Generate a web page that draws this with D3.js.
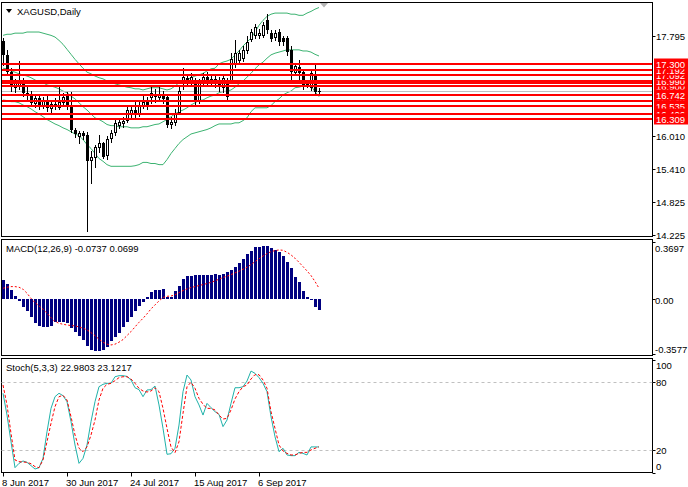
<!DOCTYPE html>
<html><head><meta charset="utf-8">
<script src="https://cdn.jsdelivr.net/npm/d3@7"></script>
<style>
body{margin:0;background:#fff}
svg{display:block}
text{font-family:"Liberation Sans",Arial,sans-serif;font-size:9.5px;fill:#000}
</style></head><body>
<svg id="c" width="688" height="487"></svg>
<script>
// ---- data ----
const opens = [17.70,17.45,17.15,16.88,16.92,16.98,16.78,16.72,16.60,16.68,16.55,16.64,16.50,16.58,16.52,16.62,16.75,16.52,16.11,16.00,
16.06,16.03,15.57,15.63,15.81,15.88,15.66,15.97,16.08,16.20,16.24,16.29,16.40,16.47,16.42,16.55,16.62,16.71,16.76,16.70,
16.76,16.70,16.22,16.26,16.44,16.97,17.04,16.96,16.97,16.64,16.97,17.06,16.98,17.03,16.96,16.88,17.01,17.01,17.31,17.37,
17.40,17.55,17.74,17.82,17.82,17.82,18.09,17.85,17.78,17.87,17.76,17.76,17.55,17.15,17.24,17.15,16.97,16.88,17.08,16.82];
const highs = [17.76,17.55,17.22,17.02,17.35,17.05,16.88,16.82,16.75,16.72,16.70,16.72,16.62,16.68,16.92,16.78,16.80,16.80,16.14,16.10,
16.10,16.07,15.73,15.84,16.02,15.90,16.00,16.11,16.29,16.31,16.35,16.55,16.55,16.62,16.62,16.72,16.70,16.88,16.85,16.90,
16.82,16.75,16.34,16.48,16.88,17.22,17.12,17.14,17.05,17.02,17.14,17.15,17.12,17.10,17.06,17.10,17.05,17.50,17.72,17.55,
17.62,17.80,17.92,18.01,17.92,18.05,18.20,17.90,17.90,17.92,17.80,17.80,17.62,17.30,17.36,17.20,17.00,17.18,17.30,16.86];
const lows = [17.28,17.10,16.82,16.80,16.85,16.72,16.66,16.55,16.52,16.48,16.50,16.45,16.40,16.48,16.48,16.55,16.48,16.08,15.98,15.88,
15.95,14.29,15.16,15.45,15.72,15.60,15.59,15.90,16.02,16.15,16.17,16.25,16.33,16.35,16.36,16.50,16.48,16.60,16.62,16.64,
16.60,16.16,16.14,16.20,16.40,16.85,16.92,16.92,16.58,16.60,16.92,16.92,16.90,16.88,16.82,16.80,16.66,16.95,17.25,17.30,
17.35,17.50,17.70,17.76,17.76,17.78,17.86,17.70,17.72,17.63,17.64,17.46,17.02,17.10,16.97,16.85,16.88,16.83,16.77,16.75];
const closes = [17.45,17.15,16.88,16.95,16.98,16.78,16.72,16.60,16.68,16.55,16.64,16.50,16.58,16.52,16.62,16.70,16.52,16.12,16.04,16.06,
16.00,15.56,15.63,15.81,15.88,15.63,15.95,16.06,16.24,16.26,16.28,16.47,16.47,16.42,16.55,16.62,16.56,16.78,16.70,16.76,
16.66,16.20,16.26,16.42,16.82,17.06,17.00,17.07,16.62,16.96,17.06,16.98,17.03,16.96,16.90,17.04,16.71,17.39,17.49,17.49,
17.55,17.69,17.87,17.96,17.86,18.00,17.91,17.74,17.85,17.69,17.69,17.51,17.15,17.26,17.13,16.92,16.92,17.13,16.80,16.81];

const bbUpper = [17.81,17.83,17.83,17.85,17.85,17.85,17.87,17.87,17.87,17.87,17.85,17.83,17.81,17.78,17.72,17.65,17.56,17.47,17.38,17.30,
17.22,17.15,17.12,17.08,17.05,17.03,16.99,16.97,16.94,16.92,16.90,16.88,16.87,16.85,16.85,16.83,16.85,16.87,16.87,16.87,
16.85,16.83,16.85,16.90,16.96,16.99,17.01,17.05,17.08,17.10,17.13,17.17,17.21,17.22,17.30,17.33,17.35,17.38,17.46,17.53,
17.62,17.69,17.76,17.87,17.99,18.08,18.15,18.19,18.21,18.21,18.21,18.21,18.19,18.19,18.17,18.17,18.21,18.24,18.28,18.31];
const bbMiddle = [17.22,17.21,17.17,17.15,17.12,17.10,17.08,17.05,17.01,16.97,16.96,16.92,16.90,16.88,16.85,16.81,16.78,16.72,16.67,16.60,
16.53,16.47,16.40,16.33,16.30,16.26,16.21,16.19,16.19,16.17,16.17,16.17,16.15,16.15,16.15,16.17,16.17,16.19,16.21,16.22,
16.26,16.30,16.35,16.40,16.44,16.47,16.51,16.56,16.60,16.64,16.65,16.69,16.72,16.74,16.78,16.80,16.81,16.83,16.88,16.94,
16.99,17.06,17.13,17.21,17.28,17.33,17.40,17.46,17.49,17.51,17.53,17.55,17.55,17.55,17.55,17.53,17.53,17.51,17.47,17.44];
const bbLower = [16.65,16.64,16.62,16.62,16.60,16.56,16.53,16.49,16.44,16.40,16.35,16.30,16.26,16.22,16.19,16.15,16.12,16.08,16.04,16.01,
15.94,15.85,15.78,15.69,15.60,15.55,15.49,15.46,15.46,15.46,15.46,15.46,15.46,15.47,15.49,15.53,15.53,15.51,15.51,15.49,
15.49,15.58,15.69,15.78,15.87,15.94,15.99,16.04,16.06,16.08,16.10,16.12,16.15,16.19,16.22,16.22,16.22,16.22,16.24,16.24,
16.28,16.33,16.44,16.51,16.51,16.51,16.51,16.55,16.62,16.67,16.74,16.78,16.81,16.87,16.88,16.90,16.92,16.90,16.80,16.71];

const macdMain = [0.123,0.097,0.058,0.019,-0.011,-0.050,-0.078,-0.115,-0.158,-0.173,-0.180,-0.180,-0.173,-0.152,-0.147,-0.152,-0.158,-0.186,-0.212,-0.240,
-0.266,-0.305,-0.331,-0.335,-0.335,-0.331,-0.310,-0.273,-0.245,-0.219,-0.180,-0.152,-0.115,-0.078,-0.043,-0.017,0.015,0.043,0.058,0.058,
0.065,0.015,0.015,0.052,0.087,0.128,0.149,0.152,0.154,0.154,0.154,0.154,0.154,0.160,0.154,0.160,0.177,0.188,0.206,0.232,
0.260,0.290,0.314,0.340,0.340,0.344,0.344,0.329,0.318,0.303,0.281,0.242,0.199,0.145,0.113,0.052,0.015,-0.002,-0.050,-0.0737];
const macdSignal = [0.069,0.076,0.080,0.080,0.076,0.063,0.037,0.004,-0.024,-0.045,-0.067,-0.093,-0.121,-0.147,-0.158,-0.165,-0.169,-0.173,-0.175,-0.182,
-0.190,-0.201,-0.219,-0.238,-0.262,-0.281,-0.294,-0.299,-0.294,-0.281,-0.264,-0.238,-0.212,-0.182,-0.152,-0.126,-0.097,-0.065,-0.039,-0.013,
0.009,0.017,0.019,0.026,0.041,0.054,0.065,0.074,0.080,0.087,0.093,0.100,0.108,0.117,0.128,0.139,0.147,0.158,0.169,0.180,
0.193,0.206,0.223,0.242,0.260,0.279,0.294,0.307,0.314,0.318,0.316,0.303,0.286,0.264,0.238,0.210,0.182,0.152,0.113,0.0699];

const stochK = [70.3,51.1,27.6,4.7,8.5,10.6,9.4,6.5,3.5,4.7,12.9,36.4,57.0,67.3,70.3,68.2,62.9,45.3,24.7,8.5,
12.9,24.7,45.3,62.9,76.1,78.2,79.1,79.1,84.9,85.8,85.8,85.2,82.0,75.2,73.5,67.3,73.2,73.5,76.7,60.0,
39.4,16.5,17.0,21.8,42.3,71.7,86.4,82.0,67.3,60.0,51.1,61.4,57.6,54.1,51.7,40.9,46.7,61.4,75.2,75.2,
76.1,81.1,89.9,87.9,84.1,79.1,71.7,49.7,32.0,18.8,21.8,15.9,15.3,15.3,18.2,17.3,15.9,23.0,23.0,22.98];
const stochD = [77.6,60.0,35.0,11.5,10.0,9.7,9.4,8.2,5.6,4.7,11.5,27.6,43.8,58.5,67.3,68.5,64.4,49.7,33.5,21.8,
18.8,23.0,33.5,46.7,64.4,74.7,78.2,79.1,81.4,84.1,84.9,84.9,82.9,79.1,74.7,72.3,71.4,72.3,75.2,71.7,
57.0,39.4,23.0,17.9,27.6,52.6,76.1,80.0,74.7,65.8,60.6,57.0,57.0,55.6,51.1,47.6,48.2,55.6,65.3,71.7,
76.1,77.6,82.9,86.7,86.7,82.0,74.7,54.1,39.4,24.7,19.4,17.3,15.9,15.9,17.3,18.2,18.2,20.3,21.8,23.12];

const levelPrices = [17.300,17.192,17.092,16.990,16.950,16.900,16.742,16.640,16.535,16.406,16.309];
const levelLabels = ["17.300","17.192","17.092","16.990","16.950","16.900","16.742","16.640","16.535","16.406","16.309"];
const levelLabelOrder = [4,5,7,3,2,1,8,9,0,6,10]; // painting order of the overlapping price tags
const bidPrice = 16.81;
const priceTicks = [17.795,16.010,15.410,14.825,14.225];
const priceTickLabels = ["17.795","16.010","15.410","14.825","14.225"];
const macdTicks = [0.3697,0.0,-0.3577];
const macdTickLabels = ["0.3697","0.00","-0.3577"];
const stochTicks = [100,80,20,0];
const stochTickLabels = ["100","80","20","0"];
const stochLevels = [80,20];
const dateTickIndex = [0,16,32,48,64];
const dateTickLabels = ["8 Jun 2017","30 Jun 2017","24 Jul 2017","15 Aug 2017","6 Sep 2017"];

// ---- layout ----
const L = 1.5, R = 652.5;
const P = {top:2.5, bottom:236.5};
const M = {top:239.5, bottom:355.5};
const S = {top:358.5, bottom:472.5};

const svg = d3.select("#c");
const idx = d3.range(closes.length);
const x = d3.scaleLinear().domain([0,79]).range([3,319]);
const yP = d3.scaleLinear().domain([14.20,18.40]).range([236.5,2.5]);
const yM = d3.scaleLinear().domain([-0.3577,0.3697]).range([354,242]);
const yS = d3.scaleLinear().domain([0,100]).range([473,359.6]);

[P,M,S].forEach(p=>{
  svg.append("rect").attr("x",L).attr("y",p.top).attr("width",R-L).attr("height",p.bottom-p.top)
    .attr("fill","#fff").attr("stroke","#000").attr("stroke-width",1);
});

svg.append("clipPath").attr("id","cp").append("rect").attr("x",L+0.5).attr("y",P.top+0.5).attr("width",R-L-1).attr("height",P.bottom-P.top-1);
const gP = svg.append("g").attr("clip-path","url(#cp)");

// Bollinger bands
const bbLine = arr => d3.line().x(i=>x(i)).y(i=>yP(arr[i]))(idx);
[bbUpper,bbMiddle,bbLower].forEach(a=>{
  gP.append("path").attr("d",bbLine(a)).attr("fill","none").attr("stroke","#3CB371").attr("stroke-width",1);
});

// bid line
gP.append("line").attr("x1",L).attr("x2",R).attr("y1",Math.round(yP(bidPrice))+0.5).attr("y2",Math.round(yP(bidPrice))+0.5)
  .attr("stroke","#c0c0c0").attr("stroke-width",1);

// candles
idx.forEach(i=>{
  const cx = Math.round(x(i));
  gP.append("line").attr("x1",cx+0.5).attr("x2",cx+0.5).attr("y1",Math.round(yP(highs[i]))).attr("y2",Math.round(yP(lows[i]))+1)
    .attr("stroke","#000").attr("stroke-width",1).attr("shape-rendering","crispEdges");
  const o = opens[i], c = closes[i];
  const yt = Math.round(yP(Math.max(o,c))), yb = Math.round(yP(Math.min(o,c)));
  if (c >= o) {
    gP.append("rect").attr("x",cx-1+0.5).attr("y",yt+0.5).attr("width",2).attr("height",Math.max(yb-yt,0))
      .attr("fill","#fff").attr("stroke","#000").attr("stroke-width",1).attr("shape-rendering","crispEdges");
  } else {
    gP.append("rect").attr("x",cx-1).attr("y",yt).attr("width",3).attr("height",Math.max(yb-yt,1))
      .attr("fill","#000").attr("shape-rendering","crispEdges");
  }
});

// red horizontal levels
levelPrices.forEach(p=>{
  const yy = Math.round(yP(p));
  gP.append("rect").attr("x",L).attr("y",yy-1).attr("width",R-L).attr("height",2).attr("fill","#ff0000");
});

// chart-shift marker
svg.append("path").attr("d","M320,3 L328,3 L324,7.5 Z").attr("fill","#b4b4b4");

// title
svg.append("path").attr("d","M6,9 L12,9 L9,13 Z").attr("fill","#000");
svg.append("text").attr("x",17).attr("y",15).text("XAGUSD,Daily");

// price axis
priceTicks.forEach((t,k)=>{
  const yy = Math.round(yP(t))+0.5;
  svg.append("line").attr("x1",R).attr("x2",R+3).attr("y1",yy).attr("y2",yy).attr("stroke","#000");
  svg.append("text").attr("x",656).attr("y",yy+3.5).text(priceTickLabels[k]);
});
// red level tags
levelLabelOrder.forEach(k=>{
  const yy = Math.round(yP(levelPrices[k]));
  const g = svg.append("g");
  g.append("rect").attr("x",654).attr("y",yy-5.5).attr("width",34).attr("height",11).attr("fill","#ff0000");
  g.append("text").attr("x",656).attr("y",yy+3.5).style("fill","#fff").text(levelLabels[k]);
});

// MACD
const gM = svg.append("g");
idx.forEach(i=>{
  const cx = Math.round(x(i));
  const y0 = Math.round(yM(0)), y1 = Math.round(yM(macdMain[i]));
  gM.append("rect").attr("x",cx-1).attr("y",Math.min(y0,y1)).attr("width",3).attr("height",Math.max(Math.abs(y1-y0),1))
    .attr("fill","#000080").attr("shape-rendering","crispEdges");
});
gM.append("path").attr("d",d3.line().x(i=>x(i)).y(i=>yM(macdSignal[i]))(idx))
  .attr("fill","none").attr("stroke","#ff0000").attr("stroke-width",1).attr("stroke-dasharray","2,2");
svg.append("text").attr("x",6).attr("y",252).text("MACD(12,26,9) -0.0737 0.0699");
const macdLabelY = [248.5,300,349.5];
macdTicks.forEach((t,k)=>{
  const yy = Math.round(yM(t))+0.5;
  svg.append("line").attr("x1",R).attr("x2",R+3).attr("y1",yy).attr("y2",yy).attr("stroke","#000");
  svg.append("text").attr("x",655).attr("y",macdLabelY[k]+3.5).text(macdTickLabels[k]);
});

// Stochastic
const gS = svg.append("g");
stochLevels.forEach(v=>{
  const yy = Math.round(yS(v))+0.5;
  gS.append("line").attr("x1",L).attr("x2",R).attr("y1",yy).attr("y2",yy).attr("stroke","#c0c0c0").attr("stroke-dasharray","3,3");
});
gS.append("path").attr("d",d3.line().x(i=>x(i)).y(i=>yS(stochK[i]))(idx))
  .attr("fill","none").attr("stroke","#20B2AA").attr("stroke-width",1);
gS.append("path").attr("d",d3.line().x(i=>x(i)).y(i=>yS(stochD[i]))(idx))
  .attr("fill","none").attr("stroke","#ff0000").attr("stroke-width",1).attr("stroke-dasharray","3,2");
svg.append("text").attr("x",6).attr("y",371).text("Stoch(5,3,3) 22.9803 23.1217");
const stochLabelY = [365.7,382.7,450.7,466.7];
stochTicks.forEach((t,k)=>{
  const yy = Math.round(yS(t))+0.5;
  svg.append("line").attr("x1",R).attr("x2",R+3).attr("y1",yy).attr("y2",yy).attr("stroke","#000");
  svg.append("text").attr("x",656).attr("y",stochLabelY[k]+3.5).text(stochTickLabels[k]);
});

// date axis
dateTickIndex.forEach((bi,k)=>{
  const cx = Math.round(x(bi))+0.5;
  svg.append("line").attr("x1",cx).attr("x2",cx).attr("y1",S.bottom).attr("y2",S.bottom+4).attr("stroke","#000");
  svg.append("text").attr("x",cx-1.5).attr("y",486).text(dateTickLabels[k]);
});
</script>
</body></html>
